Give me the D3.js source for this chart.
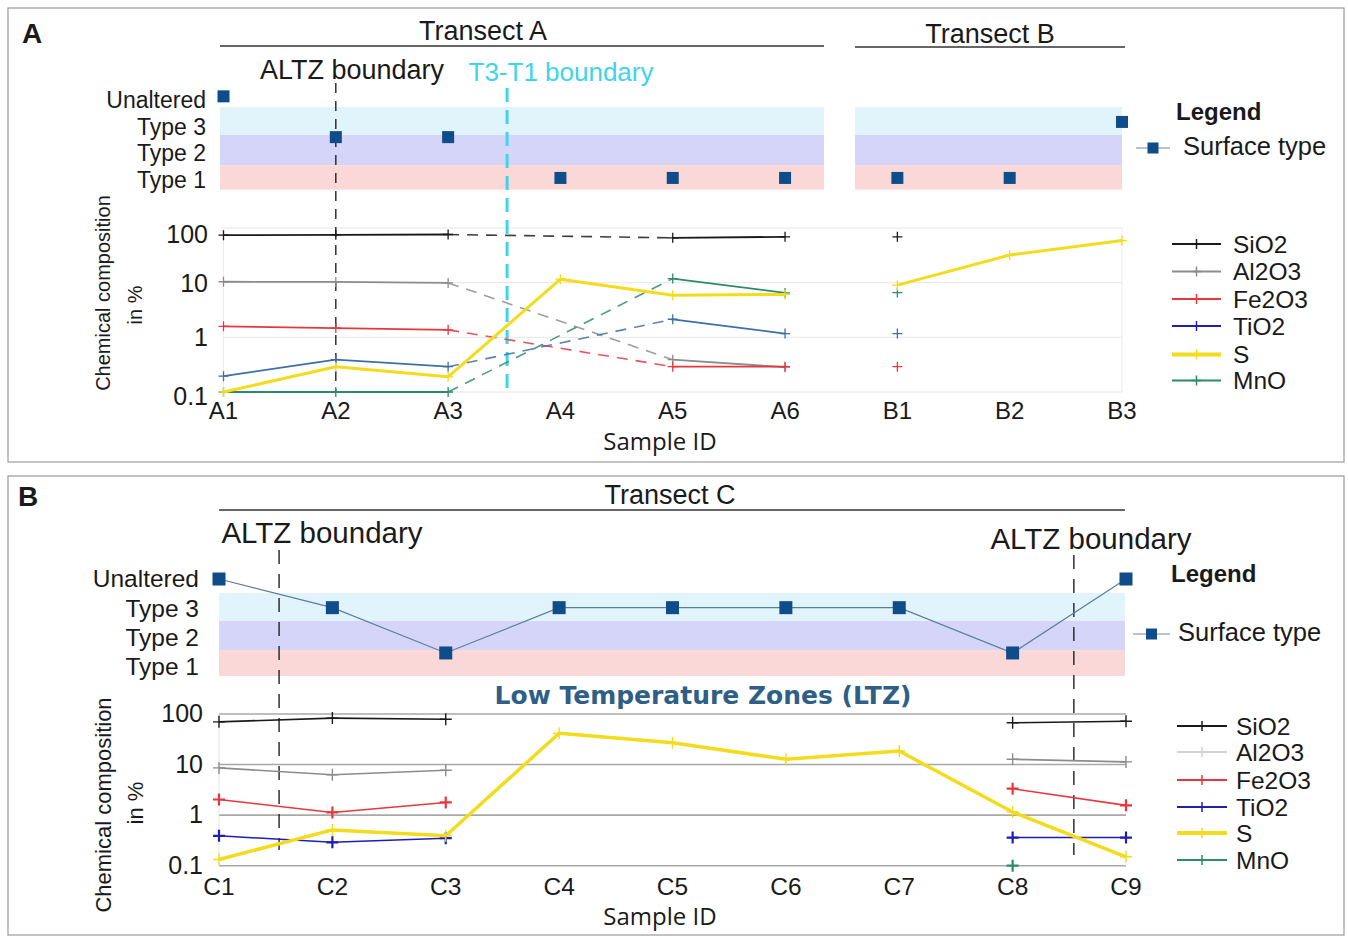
<!DOCTYPE html>
<html><head><meta charset="utf-8">
<script src="https://cdn.jsdelivr.net/npm/d3@7"></script>
<style>
body{margin:0;background:#fff;}
svg{display:block;font-family:"Liberation Sans",Arial,sans-serif;}
</style></head>
<body><svg id="chart" width="1348" height="936"></svg>
<script>
// ---------------- DATA ----------------
const surfaceLevels = [1, 2, 3, 4];
const surfaceLabels = ["Type 1", "Type 2", "Type 3", "Unaltered"];
const logTicks = [0.1, 1, 10, 100];
const logTickLabels = ["0.1", "1", "10", "100"];
const seriesNames = ["SiO2", "Al2O3", "Fe2O3", "TiO2", "S", "MnO"];

// Panel A (Transects A and B)
const catsA = ["A1", "A2", "A3", "A4", "A5", "A6", "B1", "B2", "B3"];
const transectOfA = ["A", "A", "A", "A", "A", "A", "B", "B", "B"];
const surfaceA = [4.1, 2.57, 2.57, 1.04, 1.04, 1.04, 1.04, 1.04, 3.14];
const sio2A  = [74, 75, 76, null, 66, 69, 69, null, null];
const al2o3A = [10.4, 10.3, 9.9, null, 0.39, 0.285, null, null, null];
const fe2o3A = [1.59, 1.48, 1.37, null, 0.29, 0.29, 0.29, null, null];
const tio2A  = [0.195, 0.39, 0.29, null, 2.14, 1.17, 1.17, null, null];
const sA     = [0.1, 0.29, 0.19, 11.6, 5.9, 6.1, 9.0, 32, 59];
const mnoA   = [0.1, 0.1, 0.1, null, 11.9, 6.5, 6.6, null, null];

// Panel B (Transect C)
const catsB = ["C1", "C2", "C3", "C4", "C5", "C6", "C7", "C8", "C9"];
const surfaceB = [4, 3, 1.42, 3, 3, 3, 3, 1.42, 4];
const sio2B  = [70, 83, 78.5, null, null, null, null, 67, 72];
const al2o3B = [8.6, 6.3, 7.7, null, null, null, null, 12.7, 11.3];
const fe2o3B = [2.04, 1.13, 1.78, null, null, null, null, 3.33, 1.56];
const tio2B  = [0.39, 0.29, 0.35, null, null, null, null, 0.36, 0.36];
const sB     = [0.133, 0.51, 0.39, 41.5, 27, 12.7, 18.5, 1.15, 0.15];
const mnoB   = [null, null, null, null, null, null, null, 0.1, null];

// ---------------- STYLE ----------------
const colA = {SiO2:"#1a1a1a", Al2O3:"#8c8c8c", Fe2O3:"#e8373c", TiO2:"#3d6fa6", S:"#f2dc1c", MnO:"#2a8c6c"};
const colB = {SiO2:"#1a1a1a", Al2O3:"#8c8c8c", Fe2O3:"#e8373c", TiO2:"#1e1eb4", S:"#f2dc1c", MnO:"#2a8c6c"};
const legColA = {SiO2:"#1a1a1a", Al2O3:"#8c8c8c", Fe2O3:"#e8373c", TiO2:"#2020b0", S:"#f2dc1c", MnO:"#2a8c6c"};
const legColB = {SiO2:"#1a1a1a", Al2O3:"#d2d2d2", Fe2O3:"#e8373c", TiO2:"#2020b0", S:"#f2dc1c", MnO:"#2a8c6c"};
const bandCols = ["#e1f4fb", "#d5d5fa", "#fbd8d8"];
const squareCol = "#0f4c8a";
const FONT = '"Liberation Sans", Arial, sans-serif';

const svg = d3.select("#chart");

function txt(g, x, y, s, size, opts = {}) {
  const t = g.append("text").attr("x", x).attr("y", y).text(s)
    .attr("font-size", size).attr("dominant-baseline", "central")
    .attr("text-anchor", opts.anchor || "start")
    .attr("fill", opts.fill || "#1a1a1a")
    .attr("font-family", opts.family || FONT)
    .attr("font-weight", opts.weight || "normal");
  if (opts.rotate) t.attr("transform", `rotate(${opts.rotate},${x},${y})`);
  return t;
}

function plus(g, x, y, color, r, w) {
  g.append("path").attr("d", `M${x - r},${y}H${x + r}M${x},${y - r}V${y + r}`)
    .attr("stroke", color).attr("stroke-width", w).attr("fill", "none");
}

function drawSeries(g, cats, vals, x, y, color, width, bridge, groups, markR, markW) {
  const pts = cats.map((c, i) => ({c, i, v: vals[i]})).filter(d => d.v != null);
  for (let k = 0; k < pts.length - 1; k++) {
    const a = pts[k], b = pts[k + 1];
    const sameGroup = !groups || groups[a.i] === groups[b.i];
    if (!sameGroup) continue;
    const adjacent = b.i - a.i === 1;
    if (!adjacent && !bridge) continue;
    const line = d3.line().x(d => x(d.c)).y(d => y(d.v));
    const p = g.append("path").attr("d", line([a, b])).attr("fill", "none")
      .attr("stroke", color).attr("stroke-width", adjacent ? width : Math.min(width, 1.6));
    if (!adjacent) p.attr("stroke-dasharray", "11,8").attr("opacity", 0.85);
  }
  pts.forEach(d => plus(g, x(d.c), y(d.v), color, markR, markW));
}

function chemLegend(g, x0, x1, tx, ys, cols, size) {
  seriesNames.forEach((n, i) => {
    const c = cols[n];
    g.append("line").attr("x1", x0).attr("x2", x1).attr("y1", ys[i]).attr("y2", ys[i])
      .attr("stroke", c).attr("stroke-width", n === "S" ? 4 : 1.8);
    plus(g, (x0 + x1) / 2, ys[i], c, 5, 1.5);
    txt(g, tx, ys[i], n, size);
  });
}

function surfaceLegend(g, x0, x1, y0, tx, legendY) {
  txt(g, tx - 7, legendY, "Legend", 24, {weight: "bold"});
  g.append("line").attr("x1", x0).attr("x2", x1).attr("y1", y0).attr("y2", y0)
    .attr("stroke", "#6a8aa8").attr("stroke-width", 1.2);
  const m = (x0 + x1) / 2;
  g.append("rect").attr("x", m - 5.5).attr("y", y0 - 5.5).attr("width", 11).attr("height", 11).attr("fill", squareCol);
  txt(g, tx, y0 - 2, "Surface type", 25.5);
}

// ================= PANEL A =================
{
  const g = svg.append("g");
  g.append("rect").attr("x", 8).attr("y", 8).attr("width", 1336).attr("height", 454)
    .attr("fill", "none").attr("stroke", "#9a9a9a").attr("stroke-width", 1.2);
  txt(g, 22, 33, "A", 28, {weight: "bold"});

  const x = d3.scalePoint().domain(catsA).range([223.5, 1122]);
  const ys = d3.scaleLinear().domain([1, 4]).range([179, 99]);
  const yc = d3.scaleLog().domain([0.1, 100]).range([392, 228]);

  // transect headers
  txt(g, 483, 31, "Transect A", 27, {anchor: "middle"});
  g.append("line").attr("x1", 220).attr("x2", 824).attr("y1", 46).attr("y2", 46).attr("stroke", "#333").attr("stroke-width", 1.5);
  txt(g, 990, 34, "Transect B", 27, {anchor: "middle"});
  g.append("line").attr("x1", 855).attr("x2", 1125).attr("y1", 47).attr("y2", 47).attr("stroke", "#333").attr("stroke-width", 1.5);

  // bands
  const edges = [3.7, 2.65, 1.52, 0.6];
  [[220, 824], [855, 1122]].forEach(([x0, x1]) => {
    bandCols.forEach((c, i) => {
      g.append("rect").attr("x", x0).attr("width", x1 - x0)
        .attr("y", ys(edges[i])).attr("height", ys(edges[i + 1]) - ys(edges[i])).attr("fill", c);
    });
  });
  surfaceLevels.forEach((lv, i) => txt(g, 206, ys(lv) + 1, surfaceLabels[i], 23, {anchor: "end"}));

  // chem grid
  logTicks.forEach(t => g.append("line").attr("x1", x(catsA[0])).attr("x2", x(catsA[8]))
    .attr("y1", yc(t)).attr("y2", yc(t)).attr("stroke", "#e6e6e6").attr("stroke-width", 1));
  [x(catsA[0]), x(catsA[8])].forEach(xx => g.append("line").attr("x1", xx).attr("x2", xx)
    .attr("y1", yc(100)).attr("y2", yc(0.1)).attr("stroke", "#ececec"));
  logTicks.forEach((t, i) => txt(g, 208, yc(t) + (i === 0 ? 4 : 0) + (i === 3 ? 6 : 0), logTickLabels[i], 25, {anchor: "end"}));

  // boundaries
  g.append("line").attr("x1", x("A2")).attr("x2", x("A2")).attr("y1", 83).attr("y2", 392)
    .attr("stroke", "#222").attr("stroke-width", 1.4).attr("stroke-dasharray", "10,8");
  txt(g, 352, 70, "ALTZ boundary", 27, {anchor: "middle"});
  const cx = x("A3") + 0.525 * x.step();
  g.append("line").attr("x1", cx).attr("x2", cx).attr("y1", 88).attr("y2", 390)
    .attr("stroke", "#3fd4e8").attr("stroke-width", 3).attr("stroke-dasharray", "14,8");
  txt(g, 561, 72, "T3-T1 boundary", 26, {anchor: "middle", fill: "#3fd4e8"});

  // surface squares
  catsA.forEach((c, i) => g.append("rect").attr("x", x(c) - 6).attr("y", ys(surfaceA[i]) - 6)
    .attr("width", 12).attr("height", 12).attr("fill", squareCol));

  // chem series
  const valsA = {SiO2: sio2A, Al2O3: al2o3A, Fe2O3: fe2o3A, TiO2: tio2A, S: sA, MnO: mnoA};
  ["MnO", "Al2O3", "Fe2O3", "TiO2", "SiO2", "S"].forEach(n => {
    drawSeries(g, catsA, valsA[n], x, yc, colA[n], n === "S" ? 3 : 1.8, true, transectOfA, 5, 1.3);
  });

  // axes text
  catsA.forEach(c => txt(g, x(c), 410, c, 24, {anchor: "middle"}));
  txt(g, 660, 440, "Sample ID", 24, {anchor: "middle", family: '"Open Sans", sans-serif'});
  txt(g, 103, 293, "Chemical composition", 20, {anchor: "middle", rotate: -90});
  txt(g, 135, 305, "in %", 20, {anchor: "middle", rotate: -90});

  surfaceLegend(g, 1136, 1170, 148, 1183, 111);
  chemLegend(g, 1172, 1221, 1233, [244, 271.5, 299, 326, 354.5, 380.5], legColA, 24.5);
}

// ================= PANEL B =================
{
  const g = svg.append("g");
  g.append("rect").attr("x", 8).attr("y", 476).attr("width", 1336).attr("height", 459)
    .attr("fill", "none").attr("stroke", "#9a9a9a").attr("stroke-width", 1.2);
  txt(g, 18, 496, "B", 28, {weight: "bold"});

  const x = d3.scalePoint().domain(catsB).range([219, 1126]);
  const ys = d3.scaleLinear().domain([1, 4]).range([665, 579]);
  const yc = d3.scaleLog().domain([0.1, 100]).range([865.7, 714]);

  txt(g, 670, 495, "Transect C", 27, {anchor: "middle"});
  g.append("line").attr("x1", 219).attr("x2", 1125).attr("y1", 510).attr("y2", 510).attr("stroke", "#333").attr("stroke-width", 1.5);

  const edges = [3.51, 2.535, 1.52, 0.616];
  bandCols.forEach((c, i) => {
    g.append("rect").attr("x", 219).attr("width", 906)
      .attr("y", ys(edges[i])).attr("height", ys(edges[i + 1]) - ys(edges[i])).attr("fill", c);
  });
  surfaceLevels.forEach((lv, i) => txt(g, 199, ys(lv) + (lv === 4 ? -1 : 1), surfaceLabels[i], 24.5, {anchor: "end"}));

  // grid
  logTicks.forEach(t => g.append("line").attr("x1", x(catsB[0])).attr("x2", x(catsB[8]))
    .attr("y1", yc(t)).attr("y2", yc(t)).attr("stroke", "#a8a8a8").attr("stroke-width", 1.6));
  g.append("line").attr("x1", x(catsB[0])).attr("x2", x(catsB[0])).attr("y1", yc(100)).attr("y2", yc(0.1)).attr("stroke", "#e4e4e4");
  logTicks.forEach((t, i) => txt(g, 203, yc(t) - 1, logTickLabels[i], 25, {anchor: "end"}));

  txt(g, 703, 695, "Low Temperature Zones (LTZ)", 25, {anchor: "middle", weight: "bold", fill: "#2f5f86", family: '"DejaVu Sans", Verdana, sans-serif'});

  // boundaries
  const b1 = x("C1") + 0.53 * x.step();
  const b2 = x("C8") + 0.54 * x.step();
  g.append("line").attr("x1", b1).attr("x2", b1).attr("y1", 550).attr("y2", 850)
    .attr("stroke", "#222").attr("stroke-width", 1.4).attr("stroke-dasharray", "14,10");
  g.append("line").attr("x1", b2).attr("x2", b2).attr("y1", 555).attr("y2", 855)
    .attr("stroke", "#222").attr("stroke-width", 1.4).attr("stroke-dasharray", "14,10");
  txt(g, 322, 532, "ALTZ boundary", 29.5, {anchor: "middle"});
  txt(g, 1091, 538, "ALTZ boundary", 29.5, {anchor: "middle"});

  // surface line + squares
  const sl = d3.line().x((d, i) => x(catsB[i])).y(d => ys(d));
  g.append("path").attr("d", sl(surfaceB)).attr("fill", "none").attr("stroke", "#5b7d9c").attr("stroke-width", 1.2);
  catsB.forEach((c, i) => g.append("rect").attr("x", x(c) - 6.5).attr("y", ys(surfaceB[i]) - 6.5)
    .attr("width", 13).attr("height", 13).attr("fill", squareCol));

  const valsB = {SiO2: sio2B, Al2O3: al2o3B, Fe2O3: fe2o3B, TiO2: tio2B, S: sB, MnO: mnoB};
  ["MnO", "Al2O3", "Fe2O3", "TiO2", "SiO2", "S"].forEach(n => {
    drawSeries(g, catsB, valsB[n], x, yc, colB[n], n === "S" ? 3.5 : 1.6, false, null, 6,
      (n === "Fe2O3" || n === "TiO2" || n === "MnO") ? 2.2 : 1.4);
  });

  catsB.forEach(c => txt(g, x(c), 886, c, 24.5, {anchor: "middle"}));
  txt(g, 660, 915, "Sample ID", 24, {anchor: "middle", family: '"Open Sans", sans-serif'});
  txt(g, 103, 805, "Chemical composition", 22, {anchor: "middle", rotate: -90});
  txt(g, 135, 803, "in %", 22, {anchor: "middle", rotate: -90});

  surfaceLegend(g, 1133, 1170, 634, 1178, 573);
  chemLegend(g, 1177, 1227, 1236, [726, 752, 780, 807, 833, 860], legColB, 24.5);
}
</script></body></html>
